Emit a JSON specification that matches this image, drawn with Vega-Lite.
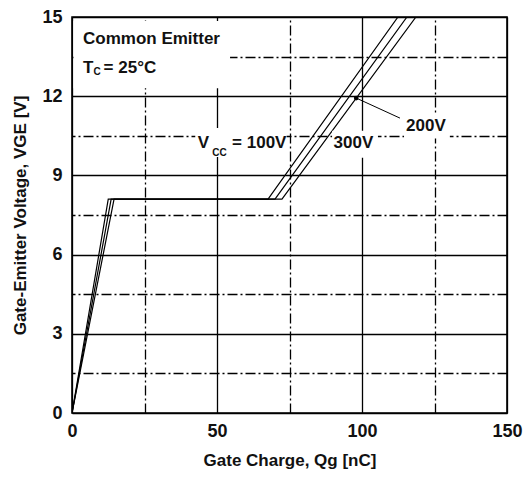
{
  "$schema": "https://vega.github.io/schema/vega-lite/v6.json",
  "width": 435,
  "height": 396,
  "autosize": {"type": "none"},
  "padding": {"left": 72, "top": 17, "right": 23, "bottom": 64},
  "background": "white",
  "config": {
    "view": {"stroke": "black", "strokeWidth": 1.6},
    "font": "Liberation Sans",
    "axis": {"domain": false, "ticks": false, "tickSize": 0, "labelFlush": false, "labelFont": "Liberation Sans", "labelFontWeight": "bold", "labelFontSize": 18, "labelColor": "#111", "titleFont": "Liberation Sans", "titleFontWeight": "bold", "titleFontSize": 17, "titleColor": "#111", "gridColor": "black", "gridOpacity": 1, "gridWidth": 1.3}
  },
  "datasets": {
    "curves": [
      {"q": 0, "v": 0, "s": "100V"}, {"q": 12.5, "v": 8.1, "s": "100V"}, {"q": 67.6, "v": 8.1, "s": "100V"}, {"q": 112.4, "v": 15, "s": "100V"},
      {"q": 0, "v": 0, "s": "200V"}, {"q": 13.5, "v": 8.1, "s": "200V"}, {"q": 70, "v": 8.1, "s": "200V"}, {"q": 115.5, "v": 15, "s": "200V"},
      {"q": 0, "v": 0, "s": "300V"}, {"q": 14.5, "v": 8.1, "s": "300V"}, {"q": 72.4, "v": 8.1, "s": "300V"}, {"q": 118.6, "v": 15, "s": "300V"}
    ],
    "masks": [
      {"x1": 0.5, "x2": 54.5, "y1": 12.3, "y2": 14.85},
      {"x1": 42.5, "x2": 74, "y1": 9.7, "y2": 10.8},
      {"x1": 89.7, "x2": 105.5, "y1": 9.67, "y2": 10.69},
      {"x1": 114.5, "x2": 130.3, "y1": 10.4, "y2": 11.3}
    ],
    "leader": [{"x": 98, "y": 11.93, "x2": 113.1, "y2": 11.17}],
    "labels": [
      {"x": 3.8, "y": 14.18, "t": "Common Emitter"},
      {"x": 3.8, "y": 13.08, "t": "T"},
      {"x": 10.9, "y": 13.08, "t": "= 25°C"},
      {"x": 43.4, "y": 10.24, "t": "V"},
      {"x": 55.2, "y": 10.24, "t": "= 100V"},
      {"x": 90.2, "y": 10.24, "t": "300V"},
      {"x": 115.2, "y": 10.88, "t": "200V"}
    ],
    "subs": [
      {"x": 7.4, "y": 12.9, "t": "C"},
      {"x": 48.4, "y": 9.86, "t": "CC"}
    ]
  },
  "layer": [
    {
      "data": {"name": "curves"},
      "mark": {"type": "line", "color": "black", "strokeWidth": 1.2, "clip": true},
      "encoding": {
        "x": {"field": "q", "type": "quantitative", "scale": {"domain": [0, 150], "nice": false}, "axis": {"values": [0, 50, 100, 150], "title": "Gate Charge, Qg [nC]", "labelPadding": 9, "titlePadding": 12, "grid": true}},
        "y": {"field": "v", "type": "quantitative", "scale": {"domain": [0, 15], "nice": false}, "axis": {"values": [0, 3, 6, 9, 12, 15], "title": "Gate-Emitter Voltage, VGE [V]", "labelPadding": 10, "titlePadding": 12, "grid": true}},
        "detail": {"field": "s"}
      }
    },
    {
      "data": {"name": "masks"},
      "mark": {"type": "rect", "fill": "white", "stroke": null},
      "encoding": {
        "x": {"field": "x1", "type": "quantitative", "axis": {"values": [25, 75, 125], "labels": false, "title": null, "grid": true, "gridDash": [10, 3, 2, 3], "gridWidth": 1.3}},
        "x2": {"field": "x2"},
        "y": {"field": "y1", "type": "quantitative", "axis": {"values": [1.5, 4.5, 7.5, 10.5, 13.5], "labels": false, "title": null, "grid": true, "gridDash": [10, 3, 2, 3], "gridWidth": 1.3}},
        "y2": {"field": "y2"}
      }
    },
    {
      "data": {"name": "leader"},
      "mark": {"type": "rule", "color": "black", "strokeWidth": 1},
      "encoding": {
        "x": {"field": "x", "type": "quantitative", "axis": null},
        "y": {"field": "y", "type": "quantitative", "axis": null},
        "x2": {"field": "x2"},
        "y2": {"field": "y2"}
      }
    },
    {
      "data": {"name": "leader"},
      "mark": {"type": "circle", "color": "black", "size": 22, "opacity": 1},
      "encoding": {
        "x": {"field": "x", "type": "quantitative", "axis": null},
        "y": {"field": "y", "type": "quantitative", "axis": null}
      }
    },
    {
      "data": {"name": "labels"},
      "mark": {"type": "text", "align": "left", "baseline": "middle", "font": "Liberation Sans", "fontWeight": "bold", "fontSize": 17, "color": "#111"},
      "encoding": {
        "x": {"field": "x", "type": "quantitative", "axis": null},
        "y": {"field": "y", "type": "quantitative", "axis": null},
        "text": {"field": "t"}
      }
    },
    {
      "data": {"name": "subs"},
      "mark": {"type": "text", "align": "left", "baseline": "middle", "font": "Liberation Sans", "fontWeight": "bold", "fontSize": 10, "color": "#111"},
      "encoding": {
        "x": {"field": "x", "type": "quantitative", "axis": null},
        "y": {"field": "y", "type": "quantitative", "axis": null},
        "text": {"field": "t"}
      }
    }
  ],
  "resolve": {"axis": {"x": "independent", "y": "independent"}}
}
